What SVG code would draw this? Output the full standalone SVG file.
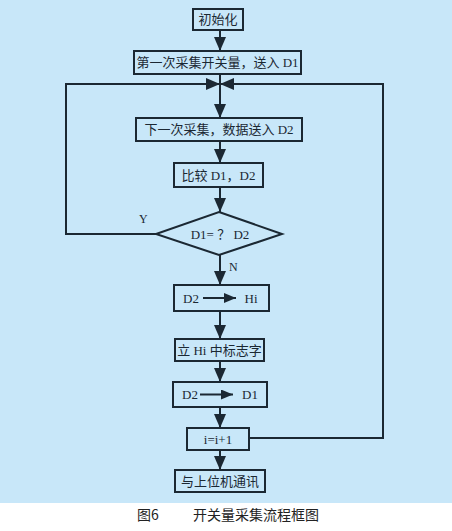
<svg xmlns="http://www.w3.org/2000/svg" width="452" height="531" viewBox="0 0 452 531">
<style>
.box{fill:#c8e7f9;stroke:#1b2833;stroke-width:2}
.ln{fill:none;stroke:#1b2833;stroke-width:2}
.t{font-family:"Liberation Serif","Noto Sans CJK SC",serif;font-size:13px;fill:#1b2833;text-anchor:middle;dominant-baseline:central}
.lbl{font-family:"Liberation Serif",serif;font-size:12px;fill:#1b2833;dominant-baseline:central}
.cap{font-family:"Noto Sans CJK SC",sans-serif;font-size:14px;fill:#222;dominant-baseline:central}
</style>
<defs>
<marker id="ah" markerUnits="userSpaceOnUse" markerWidth="14" markerHeight="12" refX="14" refY="6" orient="auto">
<path d="M0,0 L14,6 L0,12 z" fill="#1b2833"/>
</marker>
<marker id="sa" markerUnits="userSpaceOnUse" markerWidth="12" markerHeight="10" refX="12" refY="5" orient="auto">
<path d="M0,0 L12,5 L0,10 z" fill="#1b2833"/>
</marker>
</defs>
<rect x="0" y="0" width="452" height="503" fill="#c8e7f9"/>
<rect x="0" y="503" width="452" height="28" fill="#ffffff"/>
<g id="connectors">
<line class="ln" x1="220" y1="30" x2="220" y2="51" marker-end="url(#ah)"/>
<line class="ln" x1="220" y1="74" x2="220" y2="118" marker-end="url(#ah)"/>
<line class="ln" x1="220" y1="141" x2="220" y2="163" marker-end="url(#ah)"/>
<line class="ln" x1="220" y1="187" x2="220" y2="212" marker-end="url(#ah)"/>
<line class="ln" x1="220" y1="255" x2="220" y2="285" marker-end="url(#ah)"/>
<line class="ln" x1="220" y1="311" x2="220" y2="339" marker-end="url(#ah)"/>
<line class="ln" x1="220" y1="361" x2="220" y2="382" marker-end="url(#ah)"/>
<line class="ln" x1="220" y1="407" x2="220" y2="428" marker-end="url(#ah)"/>
<line class="ln" x1="220" y1="450" x2="220" y2="470" marker-end="url(#ah)"/>
<polyline class="ln" points="156,234 66,234 66,84 220,84" marker-end="url(#ah)"/>
<polyline class="ln" points="249,438 383,438 383,84 220,84" marker-end="url(#ah)"/>
<text class="lbl" x="139" y="219">Y</text>
<text class="lbl" x="229" y="267">N</text>
</g>
<g id="n1"><rect class="box" x="193" y="9" width="50" height="21"/><text class="t" x="218" y="19.5">初始化</text></g>
<g id="n2"><rect class="box" x="134" y="51" width="167" height="23"/><text class="t" x="217.5" y="62.5">第一次采集开关量，送入 D1</text></g>
<g id="n3"><rect class="box" x="136" y="118" width="166" height="23"/><text class="t" x="219" y="129.5">下一次采集，数据送入 D2</text></g>
<g id="n4"><rect class="box" x="174" y="163" width="89" height="24"/><text class="t" x="218.5" y="175">比较 D1，D2</text></g>
<g id="n5"><polygon class="box" points="219,212 282,234 219,255 156,234"/><text class="t" x="220" y="234">D1= ？ D2</text></g>
<g id="n6"><rect class="box" x="174" y="285" width="95" height="26"/><text class="t" x="191" y="298">D2</text><line class="ln" x1="203" y1="298" x2="236" y2="298" marker-end="url(#sa)"/><text class="t" x="251" y="298">Hi</text></g>
<g id="n7"><rect class="box" x="175" y="339" width="89" height="22"/><text class="t" x="219.5" y="350">立 Hi 中标志字</text></g>
<g id="n8"><rect class="box" x="173" y="382" width="94" height="25"/><text class="t" x="190" y="394.5">D2</text><line class="ln" x1="200" y1="394.5" x2="233" y2="394.5" marker-end="url(#sa)"/><text class="t" x="250" y="394.5">D1</text></g>
<g id="n9"><rect class="box" x="187" y="428" width="62" height="22"/><text class="t" x="218" y="439">i=i+1</text></g>
<g id="n10"><rect class="box" x="175" y="470" width="90" height="22"/><text class="t" x="220" y="481">与上位机通讯</text></g>
<g id="caption"><text class="cap" x="137" y="514">图6</text><text class="cap" x="193" y="514">开关量采集流程框图</text></g>
</svg>
